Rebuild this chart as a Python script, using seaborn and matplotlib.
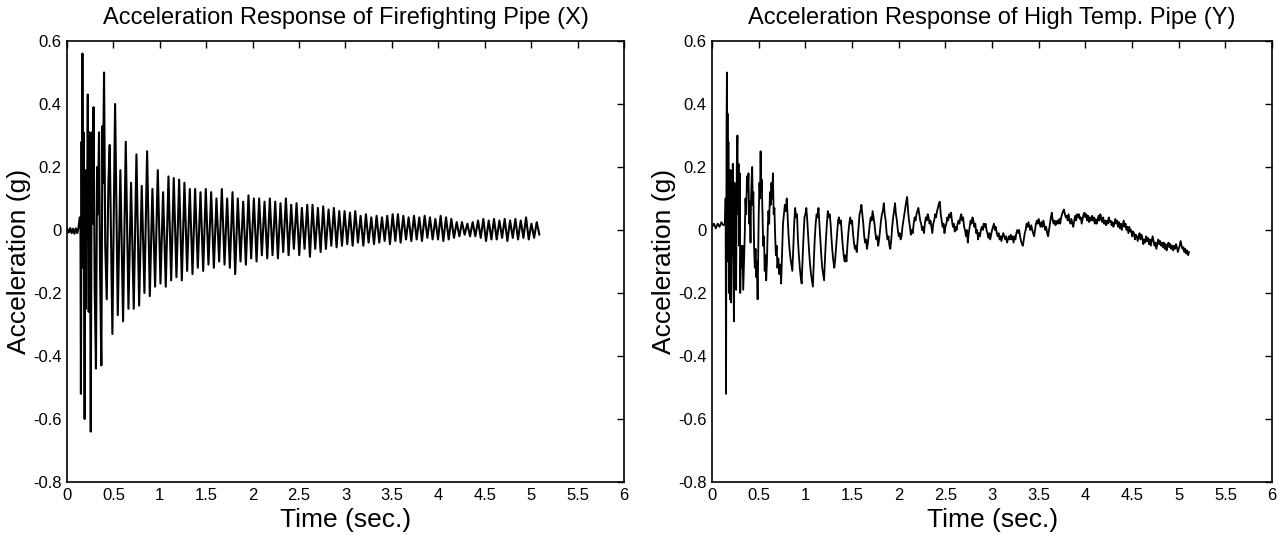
import numpy as np
import pandas as pd
import matplotlib
matplotlib.use("Agg")
import matplotlib.pyplot as plt
import seaborn as sns

# ---------------- Firefighting pipe (X) ----------------
# initial noise + impact burst, read point by point
x_burst_t = [0.000, 0.020, 0.035, 0.050, 0.065, 0.080, 0.095, 0.110, 0.125, 0.138,
             0.145, 0.150, 0.157, 0.161, 0.166, 0.172, 0.178, 0.190, 0.198, 0.204,
             0.210, 0.215, 0.224, 0.234, 0.242, 0.248, 0.256, 0.266, 0.274, 0.286,
             0.298, 0.312, 0.324, 0.332, 0.345, 0.356, 0.370, 0.382, 0.388, 0.399,
             0.412, 0.428, 0.446]
x_burst_v = [0.005, -0.008, 0.006, -0.010, 0.004, -0.012, 0.005, -0.010, 0.010, 0.040,
             0.020, -0.52, 0.28, -0.06, 0.56, -0.12, 0.31, -0.60, 0.19, -0.25,
             0.12, 0.00, 0.43, -0.26, 0.31, 0.05, -0.64, 0.31, 0.02, 0.39,
             -0.18, -0.44, 0.20, 0.05, 0.31, -0.12, -0.43, 0.33, 0.15, 0.50,
             -0.05, -0.22, 0.15]

# free-vibration part: one peak and one trough per cycle
x_peak_t = [0.460, 0.518, 0.575, 0.633, 0.690, 0.748, 0.805, 0.863, 0.920, 0.978,
            1.035, 1.093, 1.150, 1.208, 1.265, 1.323, 1.380, 1.438, 1.495, 1.553,
            1.610, 1.668, 1.725, 1.783, 1.840, 1.898, 1.955, 2.013, 2.070, 2.128,
            2.185, 2.243, 2.300, 2.358, 2.415, 2.473, 2.530, 2.588, 2.645, 2.703,
            2.760, 2.818, 2.875, 2.933, 2.990, 3.048, 3.105, 3.163, 3.220, 3.278,
            3.335, 3.393, 3.450, 3.508, 3.565, 3.623, 3.680, 3.738, 3.795, 3.853,
            3.910, 3.968, 4.025, 4.083, 4.140, 4.198, 4.255, 4.313, 4.370, 4.428,
            4.485, 4.543, 4.600, 4.658, 4.715, 4.773, 4.830, 4.888, 4.945, 5.003,
            5.060]
x_peak_v = [0.27, 0.40, 0.19, 0.28, 0.15, 0.24, 0.14, 0.25, 0.13, 0.19,
            0.12, 0.17, 0.165, 0.16, 0.15, 0.13, 0.13, 0.12, 0.13, 0.12,
            0.10, 0.13, 0.10, 0.12, 0.10, 0.09, 0.11, 0.10, 0.10, 0.09,
            0.10, 0.09, 0.085, 0.10, 0.08, 0.085, 0.07, 0.08, 0.08, 0.07,
            0.075, 0.065, 0.07, 0.06, 0.06, 0.055, 0.06, 0.045, 0.05, 0.04,
            0.045, 0.04, 0.045, 0.05, 0.05, 0.045, 0.04, 0.045, 0.04, 0.045,
            0.04, 0.035, 0.045, 0.04, 0.035, 0.025, 0.025, 0.02, 0.025, 0.03,
            0.035, 0.03, 0.035, 0.03, 0.035, 0.03, 0.035, 0.03, 0.04, 0.02,
            0.025]
x_trough_t = [0.489, 0.547, 0.604, 0.662, 0.719, 0.777, 0.834, 0.892, 0.949, 1.007,
              1.064, 1.122, 1.179, 1.237, 1.294, 1.352, 1.409, 1.467, 1.524, 1.582,
              1.639, 1.697, 1.754, 1.812, 1.869, 1.927, 1.984, 2.042, 2.099, 2.157,
              2.214, 2.272, 2.329, 2.387, 2.444, 2.502, 2.559, 2.617, 2.674, 2.732,
              2.789, 2.847, 2.904, 2.962, 3.019, 3.077, 3.134, 3.192, 3.249, 3.307,
              3.364, 3.422, 3.479, 3.537, 3.594, 3.652, 3.709, 3.767, 3.824, 3.882,
              3.939, 3.997, 4.054, 4.112, 4.169, 4.227, 4.284, 4.342, 4.399, 4.457,
              4.514, 4.572, 4.629, 4.687, 4.744, 4.802, 4.859, 4.917, 4.974, 5.032,
              5.089]
x_trough_v = [-0.33, -0.27, -0.29, -0.25, -0.25, -0.24, -0.20, -0.21, -0.18, -0.17,
              -0.18, -0.16, -0.15, -0.16, -0.13, -0.14, -0.12, -0.13, -0.11, -0.12,
              -0.10, -0.11, -0.12, -0.14, -0.10, -0.11, -0.09, -0.10, -0.08, -0.09,
              -0.08, -0.09, -0.07, -0.08, -0.06, -0.08, -0.06, -0.085, -0.06, -0.07,
              -0.06, -0.05, -0.055, -0.05, -0.045, -0.05, -0.04, -0.05, -0.04, -0.045,
              -0.04, -0.035, -0.045, -0.035, -0.04, -0.03, -0.035, -0.03, -0.035, -0.025,
              -0.03, -0.03, -0.035, -0.03, -0.025, -0.02, -0.015, -0.02, -0.02, -0.025,
              -0.035, -0.03, -0.03, -0.025, -0.035, -0.025, -0.03, -0.025, -0.03, -0.025,
              -0.015]

# ---------------- High temp. pipe (Y) ----------------
y_burst_t = [0.00, 0.02, 0.04, 0.06, 0.08, 0.10, 0.12, 0.14,
             0.145, 0.150, 0.155, 0.159, 0.163, 0.166, 0.170, 0.175, 0.180, 0.186,
             0.192, 0.198, 0.204, 0.210, 0.216, 0.222, 0.228, 0.234, 0.240, 0.246,
             0.252, 0.258, 0.265, 0.272, 0.278, 0.284, 0.290, 0.296, 0.302,
             0.310, 0.318, 0.326, 0.334, 0.342, 0.350, 0.358, 0.366, 0.374, 0.382,
             0.390, 0.398, 0.404, 0.412, 0.418, 0.424, 0.430, 0.436, 0.442,
             0.450, 0.458, 0.466, 0.474, 0.480, 0.488, 0.494, 0.500, 0.508, 0.514,
             0.520, 0.526, 0.532, 0.540, 0.548, 0.556, 0.564, 0.572, 0.580, 0.588,
             0.596, 0.604, 0.612, 0.620, 0.628, 0.636, 0.644, 0.652, 0.660, 0.668,
             0.676, 0.684, 0.692, 0.700, 0.710, 0.720, 0.730, 0.740, 0.750]
y_burst_v = [0.01, 0.02, 0.005, 0.02, 0.01, 0.025, 0.015, 0.02,
             0.10, -0.52, 0.32, 0.50, -0.05, 0.37, -0.10, 0.28, -0.20, 0.19,
             -0.22, 0.19, -0.23, 0.10, -0.08, 0.21, -0.10, -0.29, 0.15, -0.10,
             0.12, -0.19, 0.20, 0.30, 0.05, 0.21, -0.05, 0.18, -0.20,
             -0.05, -0.12, -0.05, -0.19, -0.10, -0.02, 0.10, 0.05, 0.17, 0.12,
             0.18, 0.02, 0.09, -0.04, 0.10, 0.16, 0.20, 0.08, 0.12,
             -0.05, -0.12, -0.06, -0.15, -0.10, -0.22, -0.08, 0.05, 0.15, 0.10,
             0.25, 0.12, 0.16, 0.05, -0.05, -0.02, -0.13, -0.08, -0.16, -0.10,
             0.00, 0.06, 0.02, 0.12, 0.08, 0.15, 0.10, 0.18, 0.05, 0.07,
             -0.02, -0.08, -0.05, -0.12, -0.09, -0.14, -0.11, -0.17, -0.08]

# values read every 0.01 s from 0.76 s to the end of the record
y_start, y_step = 0.76, 0.01
y_rest_v = [
    0.02, 0.05, 0.08, 0.06, 0.10, 0.04, -0.02, -0.06, -0.09, -0.11,
    -0.13, -0.06, 0.02, 0.07, 0.04, 0.05, -0.03, -0.08, -0.12, -0.15,
    -0.17, -0.09, -0.02, 0.04, 0.05, 0.07, 0.03, -0.02, -0.07, -0.11,
    -0.14, -0.16, -0.18, -0.10, -0.03, 0.02, 0.05, 0.04, 0.07, 0.02,
    -0.03, -0.08, -0.12, -0.14, -0.16, -0.09, -0.03, 0.02, 0.06, 0.04,
    0.05, 0.02, -0.03, -0.07, -0.10, -0.12, -0.09, -0.05, -0.01, 0.03,
    0.04, 0.02, 0.03, -0.01, -0.05, -0.08, -0.10, -0.08, -0.10, -0.05,
    -0.01, 0.02, 0.04, 0.02, 0.03, -0.01, -0.04, -0.06, -0.05, -0.07,
    -0.03, 0.01, 0.05, 0.06, 0.08,
    0.05, 0.02, -0.02, -0.04, -0.03, -0.06, -0.04, -0.01, 0.02, 0.04,
    0.03, 0.06, 0.04, 0.02, -0.01, -0.03, -0.02, -0.05, -0.03, 0.00,
    0.03, 0.05, 0.06, 0.085, 0.05, 0.03, -0.01, -0.03, -0.02, -0.05,
    -0.06, -0.03, 0.01, 0.04, 0.06, 0.085, 0.05, 0.03, 0.00, -0.02,
    -0.01, -0.03, -0.02, 0.01, 0.03, 0.05, 0.07, 0.09, 0.105, 0.06,
    0.03, 0.01, -0.015, 0.00, -0.01, 0.02, 0.04, 0.03, 0.05, 0.06,
    0.07, 0.05, 0.03, 0.02, 0.00, 0.01, -0.01, 0.02, 0.04, 0.03,
    0.05, 0.04, 0.02, 0.03, 0.01, -0.01, 0.02, 0.03, 0.05, 0.04,
    0.06, 0.07, 0.085, 0.09, 0.05, 0.03, 0.01, 0.02, -0.01, 0.01,
    0.02, 0.04, 0.03, 0.05, 0.04, 0.055, 0.03, 0.01, 0.02, -0.005,
    0.01, 0.00, 0.02, 0.03, 0.02, 0.04, 0.05, 0.03, 0.04, 0.01,
    0.00, -0.02, 0.00, -0.04, -0.01, 0.01, 0.03, 0.02, 0.04, 0.03,
    0.01, 0.02, -0.01, 0.00, -0.03, -0.01, -0.02, 0.00, 0.01, 0.00,
    0.02, 0.01, 0.02, 0.00, -0.01, -0.025, -0.01, -0.03, -0.015, 0.00,
    0.01, 0.02, 0.00, 0.01, -0.01, -0.02, -0.01, -0.03, -0.02, -0.035,
    -0.02, -0.01, -0.02, -0.03, -0.02, -0.04, -0.03, -0.02, -0.03, -0.015,
    -0.03, -0.02, -0.04, -0.02, -0.03, -0.01, 0.00, -0.01, 0.00, -0.02,
    -0.035, -0.045, -0.05, -0.03, -0.01, 0.00, 0.02, 0.01, 0.025, 0.01,
    0.00, 0.015, 0.00, -0.01, -0.02, 0.00, 0.02, 0.03, 0.02, 0.035,
    0.02, 0.01, 0.025, 0.01, 0.03, 0.015, 0.00, 0.01, -0.01, -0.02,
    0.00, 0.02, 0.04, 0.055, 0.03, 0.02, 0.03, 0.015, 0.025, 0.03,
    0.02, 0.035, 0.02, 0.04, 0.05, 0.06, 0.065, 0.05, 0.04, 0.045,
    0.03, 0.05, 0.03, 0.02, 0.035, 0.02, 0.01, 0.03, 0.045, 0.03,
    0.05, 0.04, 0.05, 0.035, 0.04, 0.02, 0.035, 0.05, 0.055, 0.04,
    0.05, 0.03, 0.045, 0.025, 0.04, 0.03, 0.045, 0.03, 0.04, 0.02,
    0.035, 0.02, 0.03, 0.045, 0.03, 0.05, 0.035, 0.025, 0.04, 0.02,
    0.03, 0.015, 0.03, 0.02, 0.04, 0.025, 0.03, 0.015, 0.025, 0.01,
    0.02, 0.035, 0.02, 0.03, 0.01, 0.025, 0.005, 0.02, 0.00, 0.015,
    0.03, 0.01, 0.02, 0.00, 0.01, -0.01, 0.01, -0.005, 0.00, -0.02,
    -0.005, -0.01, -0.03, -0.015, -0.02, -0.035, -0.02, -0.01, -0.03, -0.015,
    -0.025, -0.045, -0.03, -0.04, -0.02, -0.035, -0.025, -0.045, -0.03, -0.05,
    -0.035, -0.02, -0.035, -0.05, -0.04, -0.06, -0.045, -0.03, -0.045, -0.035,
    -0.05, -0.04, -0.055, -0.04, -0.06, -0.045, -0.065, -0.05, -0.04, -0.055,
    -0.045, -0.06, -0.05, -0.065, -0.05, -0.06, -0.045, -0.055, -0.07, -0.06,
    -0.05, -0.035, -0.05, -0.06, -0.055, -0.07, -0.06, -0.075, -0.065, -0.08,
    -0.07]

titles = ["Acceleration Response of Firefighting Pipe (X)",
          "Acceleration Response of High Temp. Pipe (Y)"]
x_ticks = [0, 0.5, 1, 1.5, 2, 2.5, 3, 3.5, 4, 4.5, 5, 5.5, 6]
x_tick_labels = ["0", "0.5", "1", "1.5", "2", "2.5", "3", "3.5", "4", "4.5", "5", "5.5", "6"]
y_ticks = [-0.8, -0.6, -0.4, -0.2, 0, 0.2, 0.4, 0.6]
y_tick_labels = ["-0.8", "-0.6", "-0.4", "-0.2", "0", "0.2", "0.4", "0.6"]

# build the two series
df_x = pd.DataFrame({
    "t": x_burst_t + x_peak_t + x_trough_t,
    "acc": x_burst_v + x_peak_v + x_trough_v,
}).sort_values("t")

y_rest_t = list(y_start + y_step * np.arange(len(y_rest_v)))
df_y = pd.DataFrame({"t": y_burst_t + y_rest_t, "acc": y_burst_v + y_rest_v})

sns.set_style("white")
plt.rcParams["font.family"] = ["Liberation Sans", "DejaVu Sans"]
plt.rcParams["text.color"] = "black"
plt.rcParams["axes.labelcolor"] = "black"

fig = plt.figure(figsize=(12.86, 5.35), dpi=100)
ax1 = fig.add_axes([0.0521, 0.0991, 0.4331, 0.8243])
ax2 = fig.add_axes([0.5537, 0.0991, 0.4355, 0.8243])

for ax, df, title, lw in [(ax1, df_x, titles[0], 1.5), (ax2, df_y, titles[1], 1.3)]:
    sns.lineplot(data=df, x="t", y="acc", ax=ax, color="black", linewidth=lw,
                 estimator=None, sort=False)
    ax.set_xlim(0, 6)
    ax.set_ylim(-0.8, 0.6)
    ax.set_xticks(x_ticks)
    ax.set_xticklabels(x_tick_labels)
    ax.set_yticks(y_ticks)
    ax.set_yticklabels(y_tick_labels)
    ax.tick_params(direction="in", top=True, right=True, length=5, width=1,
                   labelsize=12, pad=4, colors="black")
    for s in ax.spines.values():
        s.set_linewidth(1.2)
        s.set_color("black")
    ax.set_title(title, fontsize=17, pad=12, color="black")
    ax.set_xlabel("Time (sec.)", fontsize=19, labelpad=4, color="black")
    ax.set_ylabel("Acceleration (g)", fontsize=19, labelpad=1, color="black")

fig.savefig("out.png", dpi=100, facecolor="white")
